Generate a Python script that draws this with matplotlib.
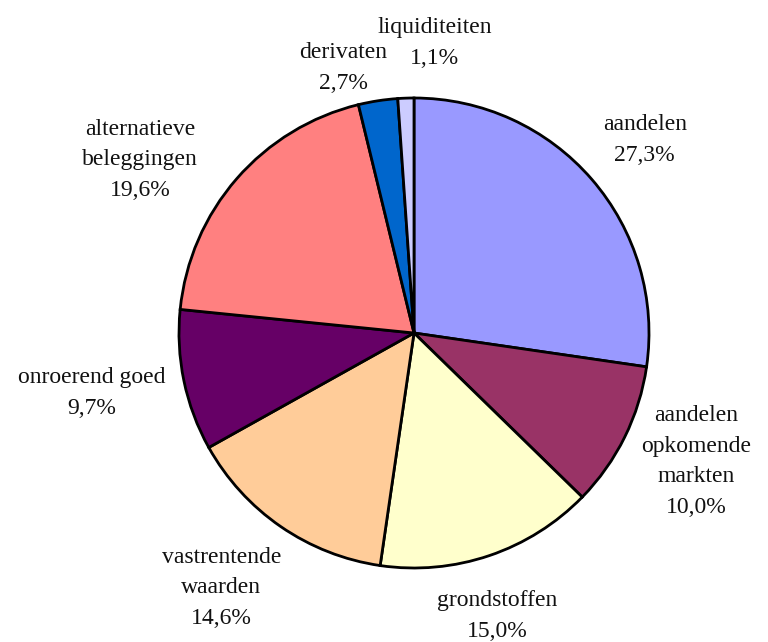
import numpy as np
import matplotlib.pyplot as plt

# data
labels = ['aandelen', 'aandelen\nopkomende\nmarkten', 'grondstoffen', 'vastrentende\nwaarden',
          'onroerend goed', 'alternatieve\nbeleggingen', 'derivaten', 'liquiditeiten']
values = [27.3, 10.0, 15.0, 14.6, 9.7, 19.6, 2.7, 1.1]
colors = ['#9999FF', '#993366', '#FFFFCC', '#FFCC99', '#660066', '#FF8080', '#0066CC', '#CCCCFF']

# label placement (polar: angle in degrees, distance in pie radii)
label_ang = [39.9, -24.5, -73.6, -127.1, -169.4, 147.7, 105.0, 85.9]
label_dist = [1.28, 1.32, 1.255, 1.36, 1.394, 1.379, 1.167, 1.237]

plt.rcParams['font.family'] = ['Liberation Serif', 'DejaVu Serif']

fig = plt.figure(figsize=(7.68, 6.42), dpi=100)
ax = fig.add_axes([0, 0, 1, 1])

wedges, _ = ax.pie(values, colors=colors, startangle=90, counterclock=False,
                   wedgeprops=dict(edgecolor='black', linewidth=2))

for lab, v, a, d in zip(labels, values, label_ang, label_dist):
    ang = np.deg2rad(a)
    txt = f"{lab}\n{v:.1f}%".replace('.', ',')
    ax.text(d * np.cos(ang), d * np.sin(ang), txt, ha='center', va='center',
            fontsize=17, linespacing=1.6, color='#111111')

# pie centre at (414, 333) px from top-left, radius 235 px
r = 235
ax.set_xlim(-414 / r, (768 - 414) / r)
ax.set_ylim(-(642 - 333) / r, 333 / r)
ax.set_aspect('auto')
ax.axis('off')

fig.savefig('out.png', dpi=100)
